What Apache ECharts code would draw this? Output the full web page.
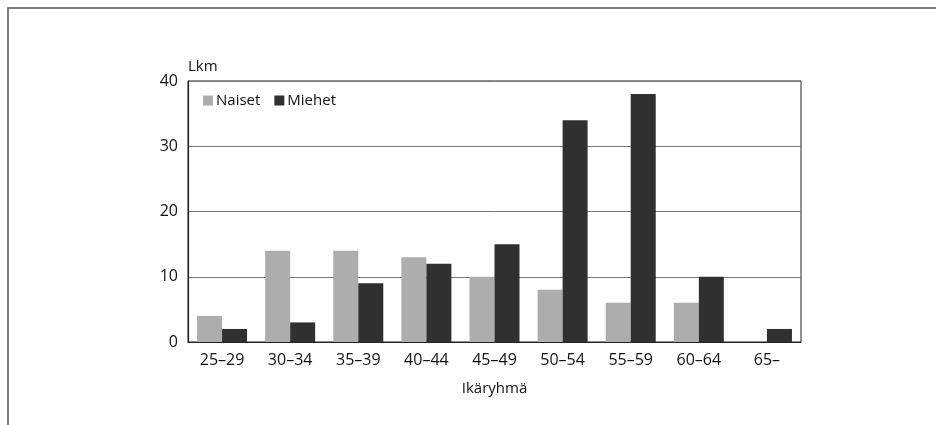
<!DOCTYPE html>
<html>
<head>
<meta charset="utf-8">
<script src="https://cdn.jsdelivr.net/npm/echarts@6/dist/echarts.min.js"></script>
<style>html,body{margin:0;padding:0;background:#fff}#c{width:936px;height:425px}</style>
</head>
<body>
<div id="c"></div>
<script>
const categories = ['25–29','30–34','35–39','40–44','45–49','50–54','55–59','60–64','65–'];
const naiset = [4, 14, 14, 13, 10, 8, 6, 6, null];
const miehet = [2, 3, 9, 12, 15, 34, 38, 10, 2];
const yTicks = [0, 10, 20, 30, 40];

const chart = echarts.init(document.getElementById('c'), null, {renderer: 'canvas'});
const font = '"Open Sans", "Noto Sans", sans-serif';
chart.setOption({
  animation: false,
  backgroundColor: '#fff',
  textStyle: {fontFamily: font, color: '#111'},
  graphic: [{
    type: 'polyline',
    shape: {points: [[8, 440], [8, 8], [936, 8]]},
    style: {stroke: '#555', lineWidth: 1.5, fill: null}
  }],
  grid: {left: 188, right: 135, top: 81, bottom: 83, show: true, borderColor: '#222', borderWidth: 1, backgroundColor: 'transparent'},
  legend: {
    left: 198, top: 88, itemWidth: 10, itemHeight: 10, itemGap: 14,
    icon: 'rect',
    textStyle: {fontFamily: font, fontSize: 15, color: '#111', padding: [0,0,0,-2]},
    data: ['Naiset', 'Miehet']
  },
  xAxis: {
    type: 'category', data: categories,
    name: 'Ikäryhmä', nameLocation: 'middle', nameGap: 39,
    nameTextStyle: {fontFamily: font, fontSize: 15, color: '#111'},
    axisLine: {lineStyle: {color: '#222', width: 1.2}},
    axisTick: {show: false},
    axisLabel: {fontFamily: font, fontSize: 16, color: '#111', margin: 10}
  },
  yAxis: {
    type: 'value', min: yTicks[0], max: yTicks[yTicks.length - 1], interval: 10,
    name: 'Lkm', nameLocation: 'end', nameGap: 7,
    nameTextStyle: {fontFamily: font, fontSize: 15, color: '#111', align: 'left', verticalAlign: 'bottom'},
    axisLine: {show: true, lineStyle: {color: '#222', width: 1.2}},
    axisTick: {show: false},
    axisLabel: {fontFamily: font, fontSize: 16, color: '#111', margin: 10},
    splitLine: {lineStyle: {color: '#777', width: 1}}
  },
  series: [
    {name: 'Naiset', type: 'bar', data: naiset, barWidth: 25, barGap: '0%',
     itemStyle: {color: '#adadad'}},
    {name: 'Miehet', type: 'bar', data: miehet, barWidth: 25, barGap: '0%',
     itemStyle: {color: '#303030'}}
  ]
});
</script>
</body>
</html>
